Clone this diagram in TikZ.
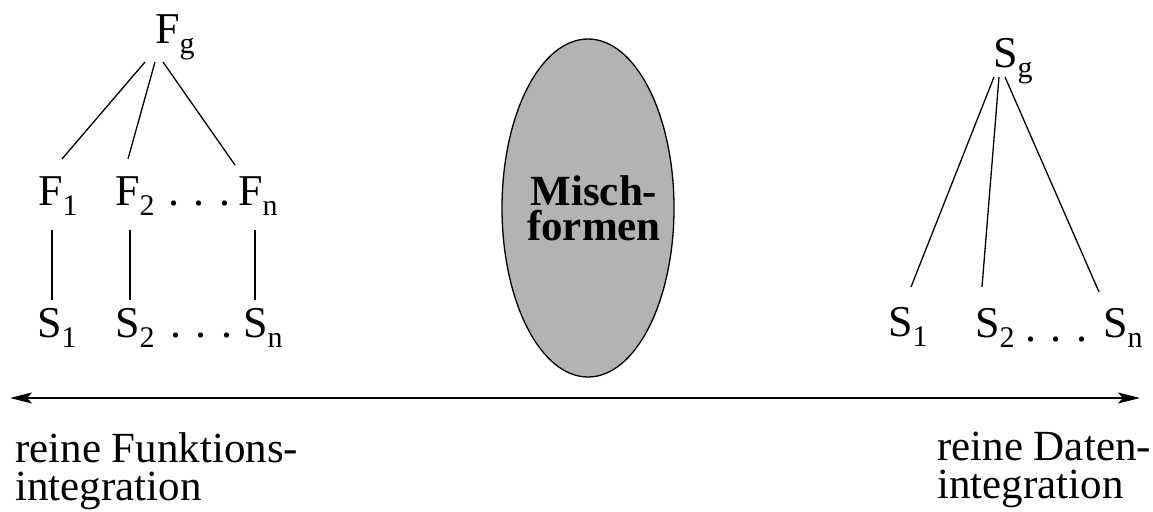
\documentclass[tikz,border=0pt]{standalone}
\usepackage{fontspec}
\setmainfont{Liberation Serif}
\usetikzlibrary{calc,arrows.meta,shapes.geometric}
\definecolor{mixgray}{RGB}{179,179,179}
\newcommand\sbx[1]{\raisebox{-10pt}{\fontsize{30}{30}\selectfont #1}}
\begin{document}
\begin{tikzpicture}[x=1pt,y=-1pt,
  lbl/.style={anchor=base west, inner sep=0pt, font=\fontsize{44}{38}\selectfont},
  edge/.style={line width=1.3pt},
  axis/.style={line width=2pt, {Stealth[length=22pt,width=11pt,inset=5pt]}-{Stealth[length=22pt,width=11pt,inset=5pt]}},
  blob/.style={ellipse, draw, line width=1.3pt, fill=mixgray, minimum width=172pt, minimum height=338pt, inner sep=0pt},
  blobtext/.style={anchor=base, inner sep=0pt, align=center, font=\bfseries\fontsize{43}{35}\selectfont},
  side/.style={anchor=base west, inner sep=0pt, align=left, font=\fontsize{43}{38}\selectfont}
]
\useasboundingbox (0,0) rectangle (1153,511);

% left tree
\node[lbl] (Fg) at (155,44) {F\sbx{g}};
\node[lbl] (F1) at (38,205) {F\sbx{1}};
\node[lbl] (F2) at (115,205) {F\sbx{2}};
\node[lbl] (Fd) at (168,205) {. . .};
\node[lbl] (Fn) at (238,205) {F\sbx{n}};
\node[lbl] (S1) at (37,337) {S\sbx{1}};
\node[lbl] (S2) at (115,337) {S\sbx{2}};
\node[lbl] (Sd) at (170,337) {. . .};
\node[lbl] (Sn) at (243,337) {S\sbx{n}};

\draw[edge] ($(Fg.base west)+(-10,18)$) -- ($(F1.base west)+(24,-46)$);
\draw[edge] ($(Fg.base west)+(0,18)$) -- ($(F2.base west)+(13,-46)$);
\draw[edge] ($(Fg.base west)+(8,18)$) -- ($(Fn.base west)+(-3,-40)$);
\draw[edge] ($(F1.base west)+(14,25)$) -- ($(S1.base west)+(15,-37)$);
\draw[edge] ($(F2.base west)+(15,25)$) -- ($(S2.base west)+(15,-37)$);
\draw[edge] ($(Fn.base west)+(17,25)$) -- ($(Sn.base west)+(12,-37)$);

% right tree
\node[lbl] (Sg) at (993,67) {S\sbx{g}};
\node[lbl] (R1) at (888,336) {S\sbx{1}};
\node[lbl] (R2) at (975,337) {S\sbx{2}};
\node[lbl] (Rd) at (1025,341) {. . .};
\node[lbl] (Rn) at (1103,337) {S\sbx{n}};

\draw[edge] ($(Sg.base west)+(1,10)$) -- ($(R1.base west)+(23,-49)$);
\draw[edge] ($(Sg.base west)+(6,10)$) -- ($(R2.base west)+(7,-50)$);
\draw[edge] ($(Sg.base west)+(12,10)$) -- ($(Rn.base west)+(-4,-45)$);

% middle
\node[blob] (mix) at (588,208) {};
\node[blobtext] (mixt) at (594,240) {Misch-\\formen};

% axis
\coordinate (L) at (10,398);
\coordinate (R) at (1140,398);
\draw[axis] (L) -- (R);

\node[side] (lft) at (15,500) {reine Funktions-\\integration};
\node[side] (rgt) at (937,498) {reine Daten-\\integration};
\end{tikzpicture}
\end{document}
